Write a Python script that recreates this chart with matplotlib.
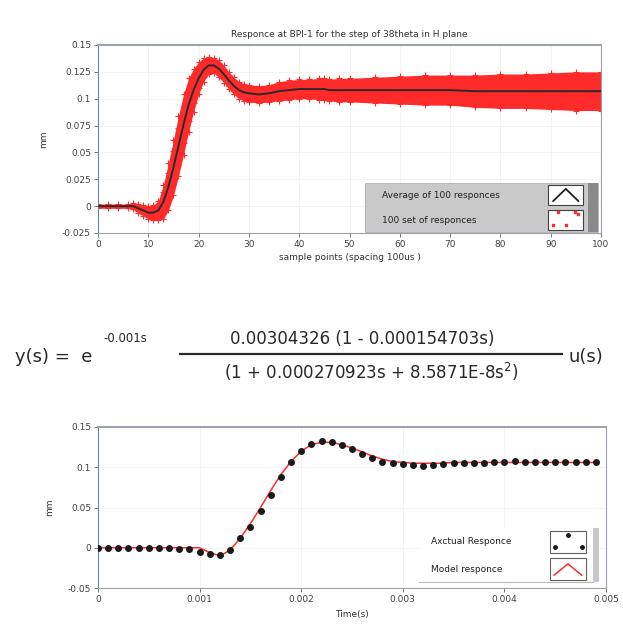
import numpy as np
import matplotlib
matplotlib.use("Agg")
from matplotlib import pyplot as plt
from matplotlib.patches import Rectangle

# top chart: average of 100 responses, x in sample points
samp = [0, 2, 4, 6, 7, 8, 9, 10, 11, 12, 13, 14, 15, 16, 17, 18, 19, 20, 21, 22,
        23, 24, 25, 26, 27, 28, 29, 30, 32, 34, 36, 38, 40, 42, 44, 45, 46, 48, 50,
        55, 60, 65, 70, 75, 80, 85, 90, 95, 100]
avg = [0.0, 0.0, 0.0, 0.0, 0.0, -0.002, -0.004, -0.006, -0.006, -0.004, 0.004, 0.018,
       0.036, 0.056, 0.076, 0.094, 0.108, 0.119, 0.127, 0.131, 0.131, 0.128, 0.123,
       0.117, 0.112, 0.108, 0.106, 0.105, 0.104, 0.105, 0.107, 0.108, 0.109, 0.109,
       0.109, 0.109, 0.108, 0.108, 0.108, 0.108, 0.108, 0.108, 0.108, 0.107, 0.107,
       0.107, 0.107, 0.107, 0.107]
# half spread of the 100 responses around the average
spread = [0.002, 0.002, 0.002, 0.002, 0.003, 0.004, 0.005, 0.006, 0.007, 0.009, 0.016,
          0.022, 0.026, 0.028, 0.028, 0.025, 0.02, 0.015, 0.011, 0.008, 0.007, 0.008,
          0.008, 0.008, 0.008, 0.008, 0.008, 0.008, 0.008, 0.008, 0.009, 0.009, 0.009,
          0.009, 0.01, 0.01, 0.01, 0.011, 0.011, 0.012, 0.013, 0.014, 0.014, 0.015,
          0.016, 0.016, 0.017, 0.018, 0.018]

# bottom chart: actual response points and model response
t = [0.0, 0.0001, 0.0002, 0.0003, 0.0004, 0.0005, 0.0006, 0.0007, 0.0008, 0.0009,
     0.001, 0.0011, 0.0012, 0.0013, 0.0014, 0.0015, 0.0016, 0.0017, 0.0018, 0.0019,
     0.002, 0.0021, 0.0022, 0.0023, 0.0024, 0.0025, 0.0026, 0.0027, 0.0028, 0.0029,
     0.003, 0.0031, 0.0032, 0.0033, 0.0034, 0.0035, 0.0036, 0.0037, 0.0038, 0.0039,
     0.004, 0.0041, 0.0042, 0.0043, 0.0044, 0.0045, 0.0046, 0.0047, 0.0048, 0.0049]
actual = [0.0, 0.0, 0.0, 0.0, 0.0, 0.0, 0.0, 0.0, -0.001, -0.002, -0.005, -0.008,
          -0.009, -0.003, 0.012, 0.026, 0.046, 0.066, 0.088, 0.106, 0.12, 0.129,
          0.132, 0.131, 0.128, 0.123, 0.117, 0.112, 0.107, 0.105, 0.104, 0.103,
          0.102, 0.103, 0.104, 0.105, 0.105, 0.105, 0.105, 0.106, 0.107, 0.108,
          0.107, 0.106, 0.106, 0.106, 0.106, 0.106, 0.106, 0.106]
model = [0.0, 0.0, 0.0, 0.0, 0.0, 0.0, 0.0, 0.0, 0.0, 0.0, 0.0, -0.006, -0.01,
         -0.003, 0.012, 0.03, 0.05, 0.071, 0.091, 0.107, 0.12, 0.128, 0.131,
         0.131, 0.128, 0.124, 0.119, 0.114, 0.11, 0.107, 0.106, 0.105, 0.105,
         0.105, 0.105, 0.106, 0.106, 0.106, 0.106, 0.106, 0.106, 0.106, 0.106,
         0.106, 0.106, 0.106, 0.106, 0.106, 0.106, 0.106]

top_yticks = [-0.025, 0, 0.025, 0.05, 0.075, 0.1, 0.125, 0.15]
top_ylabels = ["-0.025", "0", "0.025", "0.05", "0.075", "0.1", "0.125", "0.15"]
top_xticks = list(range(0, 101, 10))
bot_yticks = [-0.05, 0, 0.05, 0.1, 0.15]
bot_ylabels = ["-0.05", "0", "0.05", "0.1", "0.15"]
bot_xticks = [0, 0.001, 0.002, 0.003, 0.004, 0.005]
bot_xlabels = ["0", "0.001", "0.002", "0.003", "0.004", "0.005"]

plt.rcParams['font.family'] = ['DejaVu Sans']
tick_fs = 6.5
red = "#ff2a2a"
ink = "#282828"

fig = plt.figure(figsize=(6.23, 6.39), dpi=100)


def style_axes(ax):
    ax.set_facecolor("white")
    for s in ["top", "right", "bottom"]:
        ax.spines[s].set_color("#9aa0b0")
        ax.spines[s].set_linewidth(0.8)
    ax.spines["top"].set_linewidth(1.4)
    ax.spines["left"].set_color("#7080a0")
    ax.spines["left"].set_linewidth(0.8)
    ax.tick_params(labelsize=tick_fs, length=3, width=0.6, color="#606060",
                   labelcolor="#404040", pad=2)
    ax.grid(True, color="#eeeeee", linewidth=0.5)


# ---------------- top chart ----------------
ax1 = fig.add_axes([98 / 623, 1 - 233 / 639, 503 / 623, 188 / 639])
style_axes(ax1)
s = np.array(samp)
a = np.array(avg)
w = np.array(spread)
ax1.fill_between(s, a - w, a + w, color=red, linewidth=0, zorder=2)
for f in [-1.0, -0.6, 0.6, 1.0]:
    ax1.plot(s, a + f * w, linestyle="none", marker="+", ms=4, mew=0.8,
             color=red, zorder=2)
ax1.plot(samp, avg, color="#2a2a2a", lw=1.4, zorder=3)
ax1.set_xlim(0, 100)
ax1.set_ylim(-0.025, 0.15)
ax1.set_yticks(top_yticks)
ax1.set_yticklabels(top_ylabels)
ax1.set_xticks(top_xticks)
ax1.set_title("Responce at BPI-1 for the step of 38theta in H plane",
              fontsize=6.5, color="#303030", pad=6)
ax1.set_xlabel("sample points (spacing 100us )", fontsize=6.5, color="#303030",
               labelpad=3)
ax1.set_ylabel("mm", fontsize=6.5, color="#303030", labelpad=10)

# legend panel (top)
tr = ax1.transAxes
ax1.add_patch(Rectangle((0.531, 0.005), 0.463, 0.262, transform=tr,
                        facecolor="#c9c9c9", edgecolor="#b0b0b0", lw=0.6, zorder=5))
ax1.add_patch(Rectangle((0.974, 0.005), 0.02, 0.262, transform=tr,
                        facecolor="#8a8a8a", edgecolor="none", zorder=6))
ax1.text(0.565, 0.202, "Average of 100 responces", transform=tr, fontsize=6.5,
         color="#202020", va="center", zorder=7)
ax1.text(0.565, 0.069, "100 set of responces", transform=tr, fontsize=6.5,
         color="#202020", va="center", zorder=7)
for yb in [0.148, 0.015]:
    ax1.add_patch(Rectangle((0.895, yb), 0.07, 0.105, transform=tr,
                            facecolor="white", edgecolor="#404040", lw=0.8, zorder=7))
ax1.plot([0.905, 0.93, 0.955], [0.17, 0.235, 0.17], transform=tr, color="#202020",
         lw=1.3, zorder=8)
ax1.plot([0.915, 0.948, 0.93, 0.905, 0.955], [0.11, 0.11, 0.04, 0.04, 0.1],
         transform=tr, linestyle="none", marker="s", ms=1.5, color=red, zorder=8)

# ---------------- equation ----------------
eq_fs = 13
fig.text(15 / 623, 1 - 357 / 639, "y(s) =  e", fontsize=eq_fs, color=ink,
         va="center", ha="left")
fig.text(103 / 623, 1 - 339 / 639, "-0.001s", fontsize=8.5, color=ink,
         va="center", ha="left")
fig.add_artist(plt.Line2D([180 / 623, 562 / 623], [1 - 354 / 639, 1 - 354 / 639],
                          color=ink, lw=1.6))
fig.text(362 / 623, 1 - 339 / 639, "0.00304326 (1 - 0.000154703s)", fontsize=12,
         color=ink, va="center", ha="center")
fig.text(371 / 623, 1 - 372 / 639, r"(1 + 0.000270923s + 8.5871E-8s$^2$)",
         fontsize=12, color=ink, va="center", ha="center")
fig.text(568 / 623, 1 - 357 / 639, "u(s)", fontsize=eq_fs, color=ink,
         va="center", ha="left")

# ---------------- bottom chart ----------------
ax2 = fig.add_axes([98 / 623, 1 - 588 / 639, 508 / 623, 161 / 639])
style_axes(ax2)
ax2.plot(t, model, color=red, lw=1.1, zorder=3)
ax2.plot(t, actual, linestyle="none", marker="o", ms=4, color="#1a1a1a", zorder=4)
ax2.set_xlim(0, 0.005)
ax2.set_ylim(-0.05, 0.15)
ax2.set_yticks(bot_yticks)
ax2.set_yticklabels(bot_ylabels)
ax2.set_xticks(bot_xticks)
ax2.set_xticklabels(bot_xlabels)
ax2.set_xlabel("Time(s)", fontsize=6.5, color="#303030", labelpad=4)
ax2.set_ylabel("mm", fontsize=6.5, color="#303030", labelpad=10)

# legend panel (bottom)
tr2 = ax2.transAxes
ax2.add_patch(Rectangle((0.632, 0.037), 0.356, 0.336, transform=tr2,
                        facecolor="white", edgecolor="none", zorder=5))
ax2.plot([0.632, 0.975], [0.037, 0.037], transform=tr2, color="#b8b8b8", lw=0.8,
         zorder=6)
ax2.add_patch(Rectangle((0.975, 0.037), 0.012, 0.336, transform=tr2,
                        facecolor="#c8c8c8", edgecolor="none", zorder=6))
ax2.text(0.656, 0.286, "Axctual Responce", transform=tr2, fontsize=6.5,
         color="#202020", va="center", zorder=7)
ax2.text(0.656, 0.112, "Model responce", transform=tr2, fontsize=6.5,
         color="#202020", va="center", zorder=7)
for yb in [0.22, 0.05]:
    ax2.add_patch(Rectangle((0.89, yb), 0.07, 0.135, transform=tr2,
                            facecolor="white", edgecolor="#606060", lw=0.8, zorder=7))
ax2.plot([0.9, 0.925, 0.952], [0.255, 0.33, 0.255], transform=tr2,
         linestyle="none", marker="o", ms=2.5, color="#1a1a1a", zorder=8)
ax2.plot([0.898, 0.925, 0.952], [0.08, 0.15, 0.08], transform=tr2, color=red,
         lw=1.1, zorder=8)

fig.savefig("out.png", dpi=100)
